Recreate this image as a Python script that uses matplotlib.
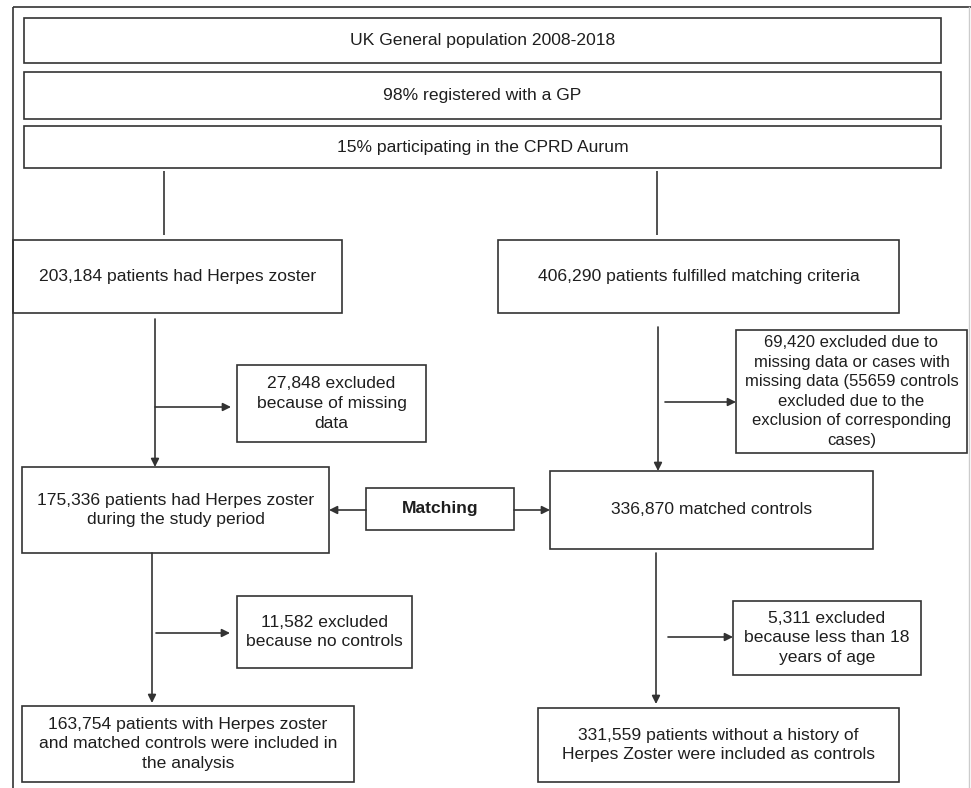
import matplotlib.pyplot as plt
from matplotlib.patches import Rectangle

plt.rcParams['font.family'] = ['Liberation Sans', 'DejaVu Sans']

# box texts
top_labels = ["UK General population 2008-2018",
              "98% registered with a GP",
              "15% participating in the CPRD Aurum"]
case_labels = ["203,184 patients had Herpes zoster",
               "175,336 patients had Herpes zoster\nduring the study period",
               "163,754 patients with Herpes zoster\nand matched controls were included in\nthe analysis"]
control_labels = ["406,290 patients fulfilled matching criteria",
                  "336,870 matched controls",
                  "331,559 patients without a history of\nHerpes Zoster were included as controls"]
case_excl = ["27,848 excluded\nbecause of missing\ndata",
             "11,582 excluded\nbecause no controls"]
control_excl = ["69,420 excluded due to\nmissing data or cases with\nmissing data (55659 controls\nexcluded due to the\nexclusion of corresponding\ncases)",
                "5,311 excluded\nbecause less than 18\nyears of age"]
match_label = "Matching"

# layout (pixels, y downwards): x0, y0, x1, y1
top_boxes = [(24, 18, 941, 63), (24, 72, 941, 119), (24, 126, 941, 168)]
case_boxes = [(13, 240, 342, 313), (22, 467, 329, 553), (22, 706, 354, 782)]
control_boxes = [(498, 240, 899, 313), (550, 471, 873, 549), (538, 708, 899, 782)]
case_excl_boxes = [(237, 365, 426, 442), (237, 596, 412, 668)]
control_excl_boxes = [(736, 330, 967, 453), (733, 601, 921, 675)]
match_box = (366, 488, 514, 530)

LC = '#333333'
TC = '#1e1e1e'
FS = 12.6

fig = plt.figure(figsize=(9.71, 7.88), dpi=100)
ax = fig.add_axes([0, 0, 1, 1])
ax.set_xlim(0, 971)
ax.set_ylim(788, 0)
ax.axis('off')


def box(b, text, bold=False, fs=FS):
    x0, y0, x1, y1 = b
    ax.add_patch(Rectangle((x0, y0), x1 - x0, y1 - y0, fill=False,
                           edgecolor=LC, linewidth=1.2))
    ax.text((x0 + x1) / 2, (y0 + y1) / 2, text, ha='center', va='center',
            multialignment='center', fontsize=fs, color=TC,
            linespacing=1.38, fontweight='bold' if bold else 'normal')


def line(x0, y0, x1, y1):
    ax.plot([x0, x1], [y0, y1], color=LC, linewidth=1.2, solid_capstyle='butt')


def arrow(x0, y0, x1, y1):
    ax.annotate('', xy=(x1, y1), xytext=(x0, y0),
                arrowprops=dict(arrowstyle='-|>', color=LC, lw=1.2,
                                mutation_scale=12, shrinkA=0, shrinkB=0))


# outer frame
line(13, 7, 971, 7)
line(13, 7, 13, 788)
ax.plot([969, 969], [7, 788], color='#cccccc', linewidth=1.0)

for b, t in zip(top_boxes, top_labels):
    box(b, t)
for b, t in zip(case_boxes, case_labels):
    box(b, t)
for b, t in zip(control_boxes, control_labels):
    box(b, t)
for b, t in zip(case_excl_boxes, case_excl):
    box(b, t)
box(control_excl_boxes[0], control_excl[0], fs=12.0)
box(control_excl_boxes[1], control_excl[1])
box(match_box, match_label, bold=True)

# connectors from the top boxes
line(164, 171, 164, 235)
line(657, 171, 657, 235)

# case branch
arrow(155, 319, 155, 467)
arrow(155, 407, 231, 407)
arrow(152, 553, 152, 703)
arrow(156, 633, 230, 633)

# control branch
arrow(658, 327, 658, 471)
arrow(665, 402, 736, 402)
arrow(656, 553, 656, 704)
arrow(668, 637, 733, 637)

# matching arrows
arrow(366, 510, 329, 510)
arrow(514, 510, 550, 510)

fig.savefig('out.png', dpi=100, facecolor='white')
